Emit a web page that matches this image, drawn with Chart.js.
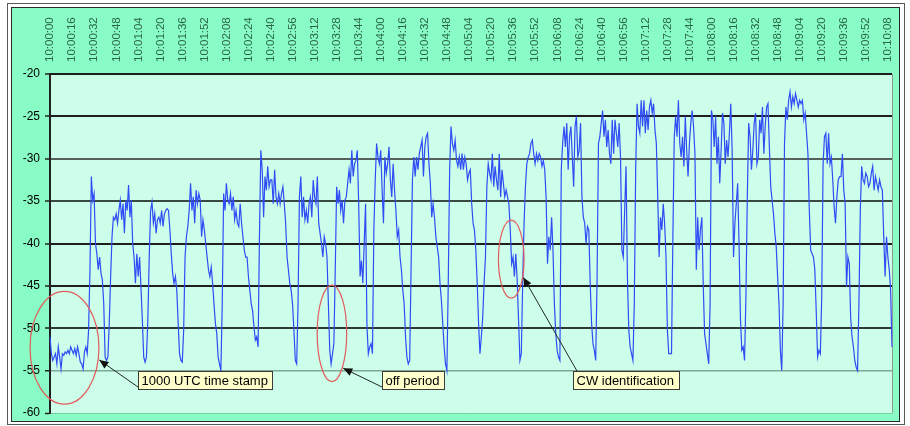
<!DOCTYPE html>
<html><head><meta charset="utf-8">
<script src="https://cdn.jsdelivr.net/npm/chart.js@4.4.0/dist/chart.umd.min.js"></script>
<style>html,body{margin:0;padding:0;background:#fff;}canvas{display:block;}</style>
</head><body><canvas id="c" width="910" height="426"></canvas>
<script>
// ---- data (one sample per second from 10:00:00) ----
const startTime = '10:00:00';
const tickLabels = ['10:00:00','10:00:16','10:00:32','10:00:48','10:01:04','10:01:20','10:01:36','10:01:52','10:02:08','10:02:24','10:02:40','10:02:56','10:03:12','10:03:28','10:03:44','10:04:00','10:04:16','10:04:32','10:04:48','10:05:04','10:05:20','10:05:36','10:05:52','10:06:08','10:06:24','10:06:40','10:06:56','10:07:12','10:07:28','10:07:44','10:08:00','10:08:16','10:08:32','10:08:48','10:09:04','10:09:20','10:09:36','10:09:52','10:10:08'];
const tickEvery = 16;
const signal = [
-51.0,-53.0,-53.8,-53.4,-53.0,-54.2,-52.2,-53.4,-54.8,-53.0,
-53.2,-52.8,-53.0,-52.6,-53.0,-52.2,-52.6,-53.0,-52.4,-53.2,
-52.2,-53.0,-54.0,-54.2,-54.8,-52.8,-52.2,-53.0,-50.2,-43.1,
-32.1,-34.9,-34.1,-40.0,-41.2,-43.1,-41.6,-43.5,-44.3,-47.1,
-53.4,-53.8,-53.4,-49.4,-43.9,-39.2,-36.9,-37.2,-36.5,-37.6,
-36.1,-34.9,-37.2,-35.3,-38.8,-34.9,-36.1,-33.1,-36.9,-34.9,
-40.0,-41.6,-44.7,-41.2,-43.9,-41.6,-45.1,-49.0,-53.4,-54.0,
-53.4,-49.0,-41.6,-36.1,-35.1,-37.6,-36.5,-38.8,-37.2,-36.9,
-37.6,-36.1,-38.0,-36.5,-36.1,-35.9,-36.1,-38.4,-41.2,-43.5,
-44.7,-43.9,-45.5,-49.4,-53.0,-53.8,-54.0,-50.2,-41.6,-39.2,
-38.0,-36.1,-32.9,-36.1,-34.5,-37.6,-33.7,-35.3,-34.1,-34.9,
-39.2,-37.2,-38.4,-40.0,-41.6,-43.1,-43.9,-42.8,-44.7,-47.1,
-49.4,-50.6,-53.4,-54.2,-55.0,-47.1,-34.1,-36.1,-32.9,-34.9,
-35.3,-34.1,-36.1,-34.5,-37.2,-36.1,-37.6,-38.0,-35.3,-37.6,
-39.2,-40.8,-41.6,-41.6,-43.9,-45.5,-47.1,-47.9,-49.8,-51.4,
-51.0,-52.2,-39.0,-29.0,-31.3,-36.9,-32.1,-33.7,-30.9,-33.3,
-32.5,-32.5,-35.3,-31.3,-34.5,-35.3,-34.1,-35.3,-34.1,-33.3,
-35.3,-37.6,-41.6,-43.1,-44.7,-45.5,-47.1,-50.2,-53.8,-54.2,
-47.1,-34.5,-32.1,-36.9,-34.5,-37.2,-36.1,-37.6,-35.3,-34.5,
-36.9,-32.5,-34.5,-35.3,-32.1,-37.6,-38.8,-40.0,-41.6,-39.2,
-40.0,-41.6,-47.1,-52.6,-54.2,-53.0,-51.8,-43.1,-33.3,-35.3,
-33.7,-36.1,-34.9,-37.6,-34.9,-34.5,-32.9,-31.3,-32.9,-29.0,
-32.1,-30.6,-30.2,-29.0,-35.3,-43.9,-42.0,-44.7,-40.0,-35.3,
-49.8,-53.0,-52.2,-51.8,-53.0,-38.4,-32.5,-28.2,-29.8,-30.6,
-29.0,-33.7,-37.6,-29.8,-31.7,-30.6,-28.6,-32.5,-34.5,-30.6,
-33.7,-36.1,-39.2,-38.4,-41.6,-43.1,-45.5,-47.1,-51.0,-53.4,
-54.2,-53.8,-43.1,-32.5,-29.8,-32.1,-29.8,-31.3,-29.4,-28.6,
-27.8,-32.1,-28.6,-27.4,-27.0,-30.6,-32.9,-36.9,-35.3,-36.9,
-39.2,-40.4,-41.6,-44.7,-46.7,-49.4,-52.2,-54.2,-55.0,-44.7,
-31.3,-26.2,-28.2,-29.0,-27.8,-30.2,-30.9,-29.8,-31.3,-29.4,
-31.3,-29.8,-30.6,-32.5,-31.7,-31.3,-35.3,-37.6,-38.4,-40.8,
-44.7,-49.4,-53.0,-51.0,-48.7,-44.7,-41.6,-33.3,-30.6,-31.7,
-32.5,-29.4,-33.3,-30.9,-32.5,-33.7,-29.4,-34.5,-31.3,-32.9,
-34.5,-33.7,-34.5,-35.3,-38.4,-42.4,-41.6,-43.9,-41.2,-44.3,
-49.0,-53.8,-53.0,-44.7,-37.6,-33.3,-30.6,-29.8,-29.4,-28.2,
-27.8,-29.4,-30.6,-29.4,-30.2,-29.4,-29.8,-30.9,-30.2,-31.3,
-34.5,-42.4,-39.2,-40.8,-36.9,-40.8,-47.1,-50.6,-52.6,-53.4,
-53.8,-31.3,-28.2,-26.2,-28.6,-25.8,-31.3,-27.4,-26.2,-29.8,
-33.3,-26.2,-25.0,-29.8,-29.0,-25.8,-34.5,-36.9,-37.6,-40.0,
-38.0,-38.4,-44.7,-49.4,-51.8,-52.6,-53.8,-43.9,-28.2,-27.4,
-25.8,-24.3,-27.4,-25.4,-28.6,-26.6,-29.4,-30.6,-25.4,-29.4,
-25.4,-27.0,-28.6,-25.8,-29.8,-40.8,-41.6,-36.1,-30.9,-43.9,
-50.2,-52.2,-53.0,-53.8,-47.1,-31.3,-23.5,-26.2,-27.0,-23.1,
-26.2,-23.1,-27.0,-24.3,-26.6,-23.9,-23.1,-24.6,-23.5,-26.6,
-28.2,-34.5,-41.6,-36.9,-38.4,-35.3,-37.6,-41.6,-50.2,-53.0,
-53.0,-53.0,-39.2,-27.4,-25.0,-27.4,-23.1,-28.2,-29.8,-27.4,
-30.9,-25.0,-29.0,-32.1,-28.2,-25.8,-24.3,-26.2,-29.4,-43.1,
-36.9,-40.8,-38.4,-36.9,-44.7,-50.6,-51.8,-53.0,-54.2,-47.1,
-24.3,-25.4,-28.6,-25.0,-30.6,-27.4,-32.9,-29.0,-24.6,-25.8,
-30.6,-27.8,-29.8,-27.0,-23.5,-29.0,-41.6,-37.6,-35.3,-32.9,
-40.0,-48.7,-52.6,-52.2,-53.8,-46.3,-34.5,-25.8,-27.4,-31.3,
-29.0,-25.8,-24.6,-30.6,-29.8,-25.4,-27.0,-23.9,-29.4,-26.2,
-23.9,-23.5,-28.6,-33.3,-34.9,-36.5,-38.8,-40.4,-43.9,-47.1,
-52.6,-55.0,-47.1,-28.2,-23.9,-25.4,-23.1,-22.1,-23.9,-22.7,
-23.5,-22.3,-23.1,-23.9,-23.1,-23.5,-23.1,-25.4,-24.6,-27.0,
-29.4,-36.1,-40.8,-41.2,-41.6,-43.1,-47.9,-53.4,-52.6,-53.0,
-46.3,-30.6,-27.4,-27.0,-30.6,-27.0,-30.6,-29.8,-32.5,-35.7,
-37.6,-34.5,-32.5,-32.1,-32.1,-29.4,-33.7,-35.3,-45.1,-41.6,
-42.4,-48.7,-51.0,-52.2,-53.8,-54.6,-55.0,-47.1,-36.1,-30.9,
-32.5,-32.9,-31.7,-32.1,-33.3,-32.9,-31.7,-30.9,-33.7,-32.1,
-32.9,-33.7,-32.5,-33.3,-33.7,-39.2,-43.9,-39.2,-41.6,-43.1,
-45.5,-52.2
];
// annotations, anchored in data units (sample index, dB)
const ellipses = [
  {t: 10.5, v: -52.3, dt: 25.0, dv: 6.65},
  {t: 204.6, v: -50.6, dt: 10.7, dv: 5.7},
  {t: 334.7, v: -41.85, dt: 9.3, dv: 4.6}
];
const callouts = [
  {text: '1000 UTC time stamp', t: 63.6, v: -55.0, tipT: 35.8, tipV: -53.75, from: 'left'},
  {text: 'off period', t: 241.1, v: -55.0, tipT: 212.8, tipV: -54.72, from: 'left'},
  {text: 'CW identification', t: 379.3, v: -55.0, tipT: 343.5, tipV: -44.0, from: 'top'}
];

// categories: one per second
function fmt(s) {
  const p = startTime.split(':').map(Number);
  let tot = p[0]*3600 + p[1]*60 + p[2] + s;
  const h = Math.floor(tot/3600), m = Math.floor(tot/60)%60, ss = tot%60;
  return h + ':' + String(m).padStart(2,'0') + ':' + String(ss).padStart(2,'0');
}
const categories = signal.map((_, i) => fmt(i));

const FONT = "'Liberation Sans', Arial, sans-serif";

function gridStyle(v) {
  switch (v) {
    case -60: return ['#74cfa4', 1];
    case -55: return ['#7fa898', 1.5];
    case -50: return ['#2c3a33', 2];
    case -35: return ['#3a4842', 2];
    case -30: return ['#55625b', 2];
    default: return ['#1e1e1e', 2];
  }
}

const framePlugin = {
  id: 'frame',
  beforeDraw(chart) {
    const ctx = chart.ctx, a = chart.chartArea;
    ctx.save();
    ctx.fillStyle = '#ffffff';
    ctx.fillRect(0, 0, chart.width, chart.height);
    ctx.strokeStyle = '#5a5a5a'; ctx.lineWidth = 1;
    ctx.strokeRect(7.5, 3.5, 897, 421);
    ctx.fillStyle = '#88fcc4';
    ctx.fillRect(12, 8, 887, 413);
    ctx.strokeStyle = '#2a2a2a';
    ctx.strokeRect(11.5, 7.5, 888, 414);
    ctx.fillStyle = '#cdfeea';
    ctx.fillRect(a.left, a.top, a.right - a.left, a.bottom - a.top);
    ctx.strokeStyle = '#8a9c92'; ctx.lineWidth = 1;
    ctx.beginPath(); ctx.moveTo(a.right + 0.5, a.top); ctx.lineTo(a.right + 0.5, a.bottom); ctx.stroke();
    ctx.restore();
  }
};

const notePlugin = {
  id: 'notes',
  afterDraw(chart) {
    const ctx = chart.ctx, x = chart.scales.x, y = chart.scales.y;
    ctx.save();
    ctx.strokeStyle = '#e25b5b'; ctx.lineWidth = 1.2;
    for (const e of ellipses) {
      const cx = x.getPixelForValue(e.t), cy = y.getPixelForValue(e.v);
      const rx = x.getPixelForValue(e.t + e.dt) - cx;
      const ry = cy - y.getPixelForValue(e.v + e.dv);
      ctx.beginPath(); ctx.ellipse(cx, cy, rx, ry, 0, 0, Math.PI * 2); ctx.stroke();
    }
    ctx.font = '13px ' + FONT;
    for (const c of callouts) {
      const bx = Math.round(x.getPixelForValue(c.t)), by = Math.round(y.getPixelForValue(c.v));
      const w = Math.round(ctx.measureText(c.text).width + 8), h = 18;
      const sx = c.from === 'left' ? bx : bx + 4;
      const sy = c.from === 'left' ? by + 16 : by;
      const tx = x.getPixelForValue(c.tipT), ty = y.getPixelForValue(c.tipV);
      ctx.strokeStyle = '#1f2a24'; ctx.lineWidth = 1;
      ctx.beginPath(); ctx.moveTo(sx, sy); ctx.lineTo(tx, ty); ctx.stroke();
      const ang = Math.atan2(ty - sy, tx - sx), L = 9, W = 4;
      ctx.fillStyle = '#111';
      ctx.beginPath(); ctx.moveTo(tx, ty);
      ctx.lineTo(tx - L*Math.cos(ang) + W*Math.sin(ang), ty - L*Math.sin(ang) - W*Math.cos(ang));
      ctx.lineTo(tx - L*Math.cos(ang) - W*Math.sin(ang), ty - L*Math.sin(ang) + W*Math.cos(ang));
      ctx.closePath(); ctx.fill();
      ctx.fillStyle = '#ffffcc'; ctx.fillRect(bx, by, w, h);
      ctx.strokeStyle = '#3a3a3a'; ctx.strokeRect(bx + 0.5, by + 0.5, w, h);
      ctx.fillStyle = '#000'; ctx.textBaseline = 'middle'; ctx.textAlign = 'left';
      ctx.fillText(c.text, bx + 3.5, by + h / 2 + 1);
    }
    ctx.restore();
  }
};

new Chart(document.getElementById('c'), {
  type: 'line',
  data: {
    labels: categories,
    datasets: [{ data: signal, borderColor: '#2f4cf5', borderWidth: 1.2, pointRadius: 0, tension: 0, fill: false }]
  },
  options: {
    responsive: false, animation: false, events: [],
    layout: { autoPadding: false, padding: { left: 12, top: 8, right: 18, bottom: 13 } },
    plugins: { legend: { display: false }, tooltip: { enabled: false } },
    scales: {
      x: {
        type: 'category', position: 'top', offset: false,
        grid: { display: false, drawTicks: false },
        border: { display: false },
        ticks: {
          autoSkip: false, minRotation: 90, maxRotation: 90, padding: 12, labelOffset: 14,
          color: '#2a6646', font: { family: FONT, size: 11.5 },
          callback: (v) => tickLabels[v / tickEvery]
        },
        afterBuildTicks: s => { s.ticks = s.ticks.filter(t => t.value % tickEvery === 0); },
        afterFit: s => { s.height = 66; s.paddingLeft = 0; s.paddingRight = 0; }
      },
      y: {
        min: -60, max: -20,
        ticks: { stepSize: 5, color: '#000', padding: 5, font: { family: FONT, size: 12 } },
        grid: {
          color: c => gridStyle(c.tick.value)[0],
          lineWidth: c => gridStyle(c.tick.value)[1],
          tickColor: '#222', tickLength: 5, tickWidth: 1.5
        },
        border: { color: '#222', width: 2 },
        afterFit: s => { s.width = 38; s.paddingTop = 0; s.paddingBottom = 0; }
      }
    }
  },
  plugins: [framePlugin, notePlugin]
});
</script></body></html>
